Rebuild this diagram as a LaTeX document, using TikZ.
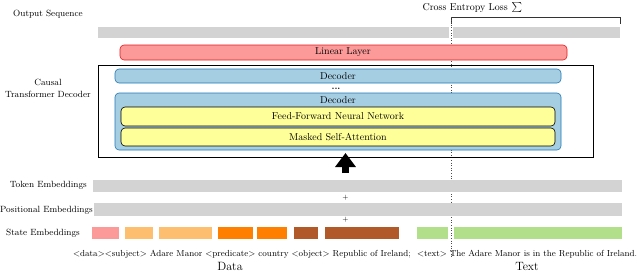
\documentclass[tikz,border=0pt]{standalone}
\usetikzlibrary{arrows.meta}
\definecolor{cpink}{HTML}{FB9A99}
\definecolor{cred}{HTML}{E31A1C}
\definecolor{clor}{HTML}{FDBF6F}
\definecolor{cor}{HTML}{FF7F00}
\definecolor{cbrown}{HTML}{B15928}
\definecolor{cgreen}{HTML}{B2DF8A}
\definecolor{cblue}{HTML}{A6CEE3}
\definecolor{cdblue}{HTML}{1F78B4}
\definecolor{cyel}{HTML}{FFFF99}
\definecolor{cgray}{HTML}{D3D3D3}
\begin{document}
\begin{tikzpicture}[x=1pt,y=-1pt,
  bar/.style={fill=cgray,draw=none},
  seg/.style={draw=none},
  lab/.style={font=\small,inner sep=0pt},
  boxlab/.style={font=\normalsize,inner sep=0pt},
  lin/.style={fill=cpink,draw=cred,rounded corners=4pt,line width=0.6pt},
  dec/.style={fill=cblue,draw=cdblue,rounded corners=4pt,line width=0.6pt},
  sub/.style={fill=cyel,draw=black,rounded corners=4pt,line width=0.6pt}]
\useasboundingbox (0,0) rectangle (640,271);
% output sequence
\node[lab] (outlab) at (48,14) {Output Sequence};
\path[bar] (98,27) rectangle (449,38);
\path[bar] (453,27) rectangle (620,38);
% cross entropy
\node[font=\normalsize,inner sep=0pt,anchor=base east] (cel) at (508,10.5) {Cross Entropy Loss};
\node[inner sep=0pt] (sig) at (517,7.8) {$\sum$};
\coordinate (brl) at (451,17);
\coordinate (brr) at (620,17);
\coordinate (brld) at (451,24);
\coordinate (brrd) at (620,24);
\draw[line width=0.8pt,black!80] (brld) -- (brl) -- (brr) -- (brrd);
\coordinate (dotend) at (451,258);
\draw[dotted,line width=0.6pt,black!70] (brl) -- (dotend);
% linear layer
\draw[lin] (120,45) rectangle (567,60);
\node[boxlab] (linl) at (343,52.5) {Linear Layer};
% outer box
\draw[line width=0.7pt] (98,65) rectangle (593,157);
\node[lab,align=center] (caus) at (48,88) {Causal\\[1pt]Transformer Decoder};
% decoders
\draw[dec] (115,69) rectangle (561,83);
\node[boxlab] (d1) at (338,76) {Decoder};
\node[inner sep=0pt,font=\small\bfseries,anchor=base] (dots) at (336,89.5) {...};
\draw[dec] (115,93) rectangle (561,150);
\node[boxlab] (d2) at (338,100) {Decoder};
\draw[sub] (121,107) rectangle (555,126);
\node[boxlab] (ffn) at (338,116.5) {Feed-Forward Neural Network};
\draw[sub] (121,128) rectangle (555,146);
\node[boxlab] (msa) at (338,137) {Masked Self-Attention};
% arrow
\coordinate (arrs) at (345.5,173);
\coordinate (arre) at (345.5,153);
\draw[line width=7pt,-{Triangle[width=20pt,length=14pt]}] (arrs) -- (arre);
% embeddings
\node[lab,anchor=east] (tok) at (87,185) {Token Embeddings};
\path[bar] (93,180) rectangle (622,192);
\node[font=\scriptsize,inner sep=0pt] (p1) at (345.5,198) {+};
\node[lab,anchor=west] (pos) at (0,210) {Positional Embeddings};
\path[bar] (94,203) rectangle (622,216);
\node[font=\scriptsize,inner sep=0pt] (p2) at (345.5,220) {+};
\node[lab] (st) at (43,233) {State Embeddings};
\path[fill=cpink] (92,227) rectangle (119,239);
\path[fill=clor] (125,227) rectangle (153,239);
\path[fill=clor] (159,227) rectangle (212,239);
\path[fill=cor] (218,227) rectangle (253,239);
\path[fill=cor] (257,227) rectangle (287,239);
\path[fill=cbrown] (294,227) rectangle (318,239);
\path[fill=cbrown] (325,227) rectangle (399,239);
\path[fill=cgreen] (417,227) rectangle (448,239);
\path[fill=cgreen] (454,227) rectangle (622,239);
% text line
\node[inner sep=0pt,anchor=west] (txt) at (73,254) {\resizebox{564pt}{!}{\small $<$data$>$$<$subject$>$ Adare Manor $<$predicate$>$ country $<$object$>$ Republic of Ireland;\ \ $<$text$>$ The Adare Manor is in the Republic of Ireland.}};
\node[font=\large,inner sep=0pt] (dl) at (230,266) {Data};
\node[font=\large,inner sep=0pt] (tl) at (527,266) {Text};
\end{tikzpicture}
\end{document}
